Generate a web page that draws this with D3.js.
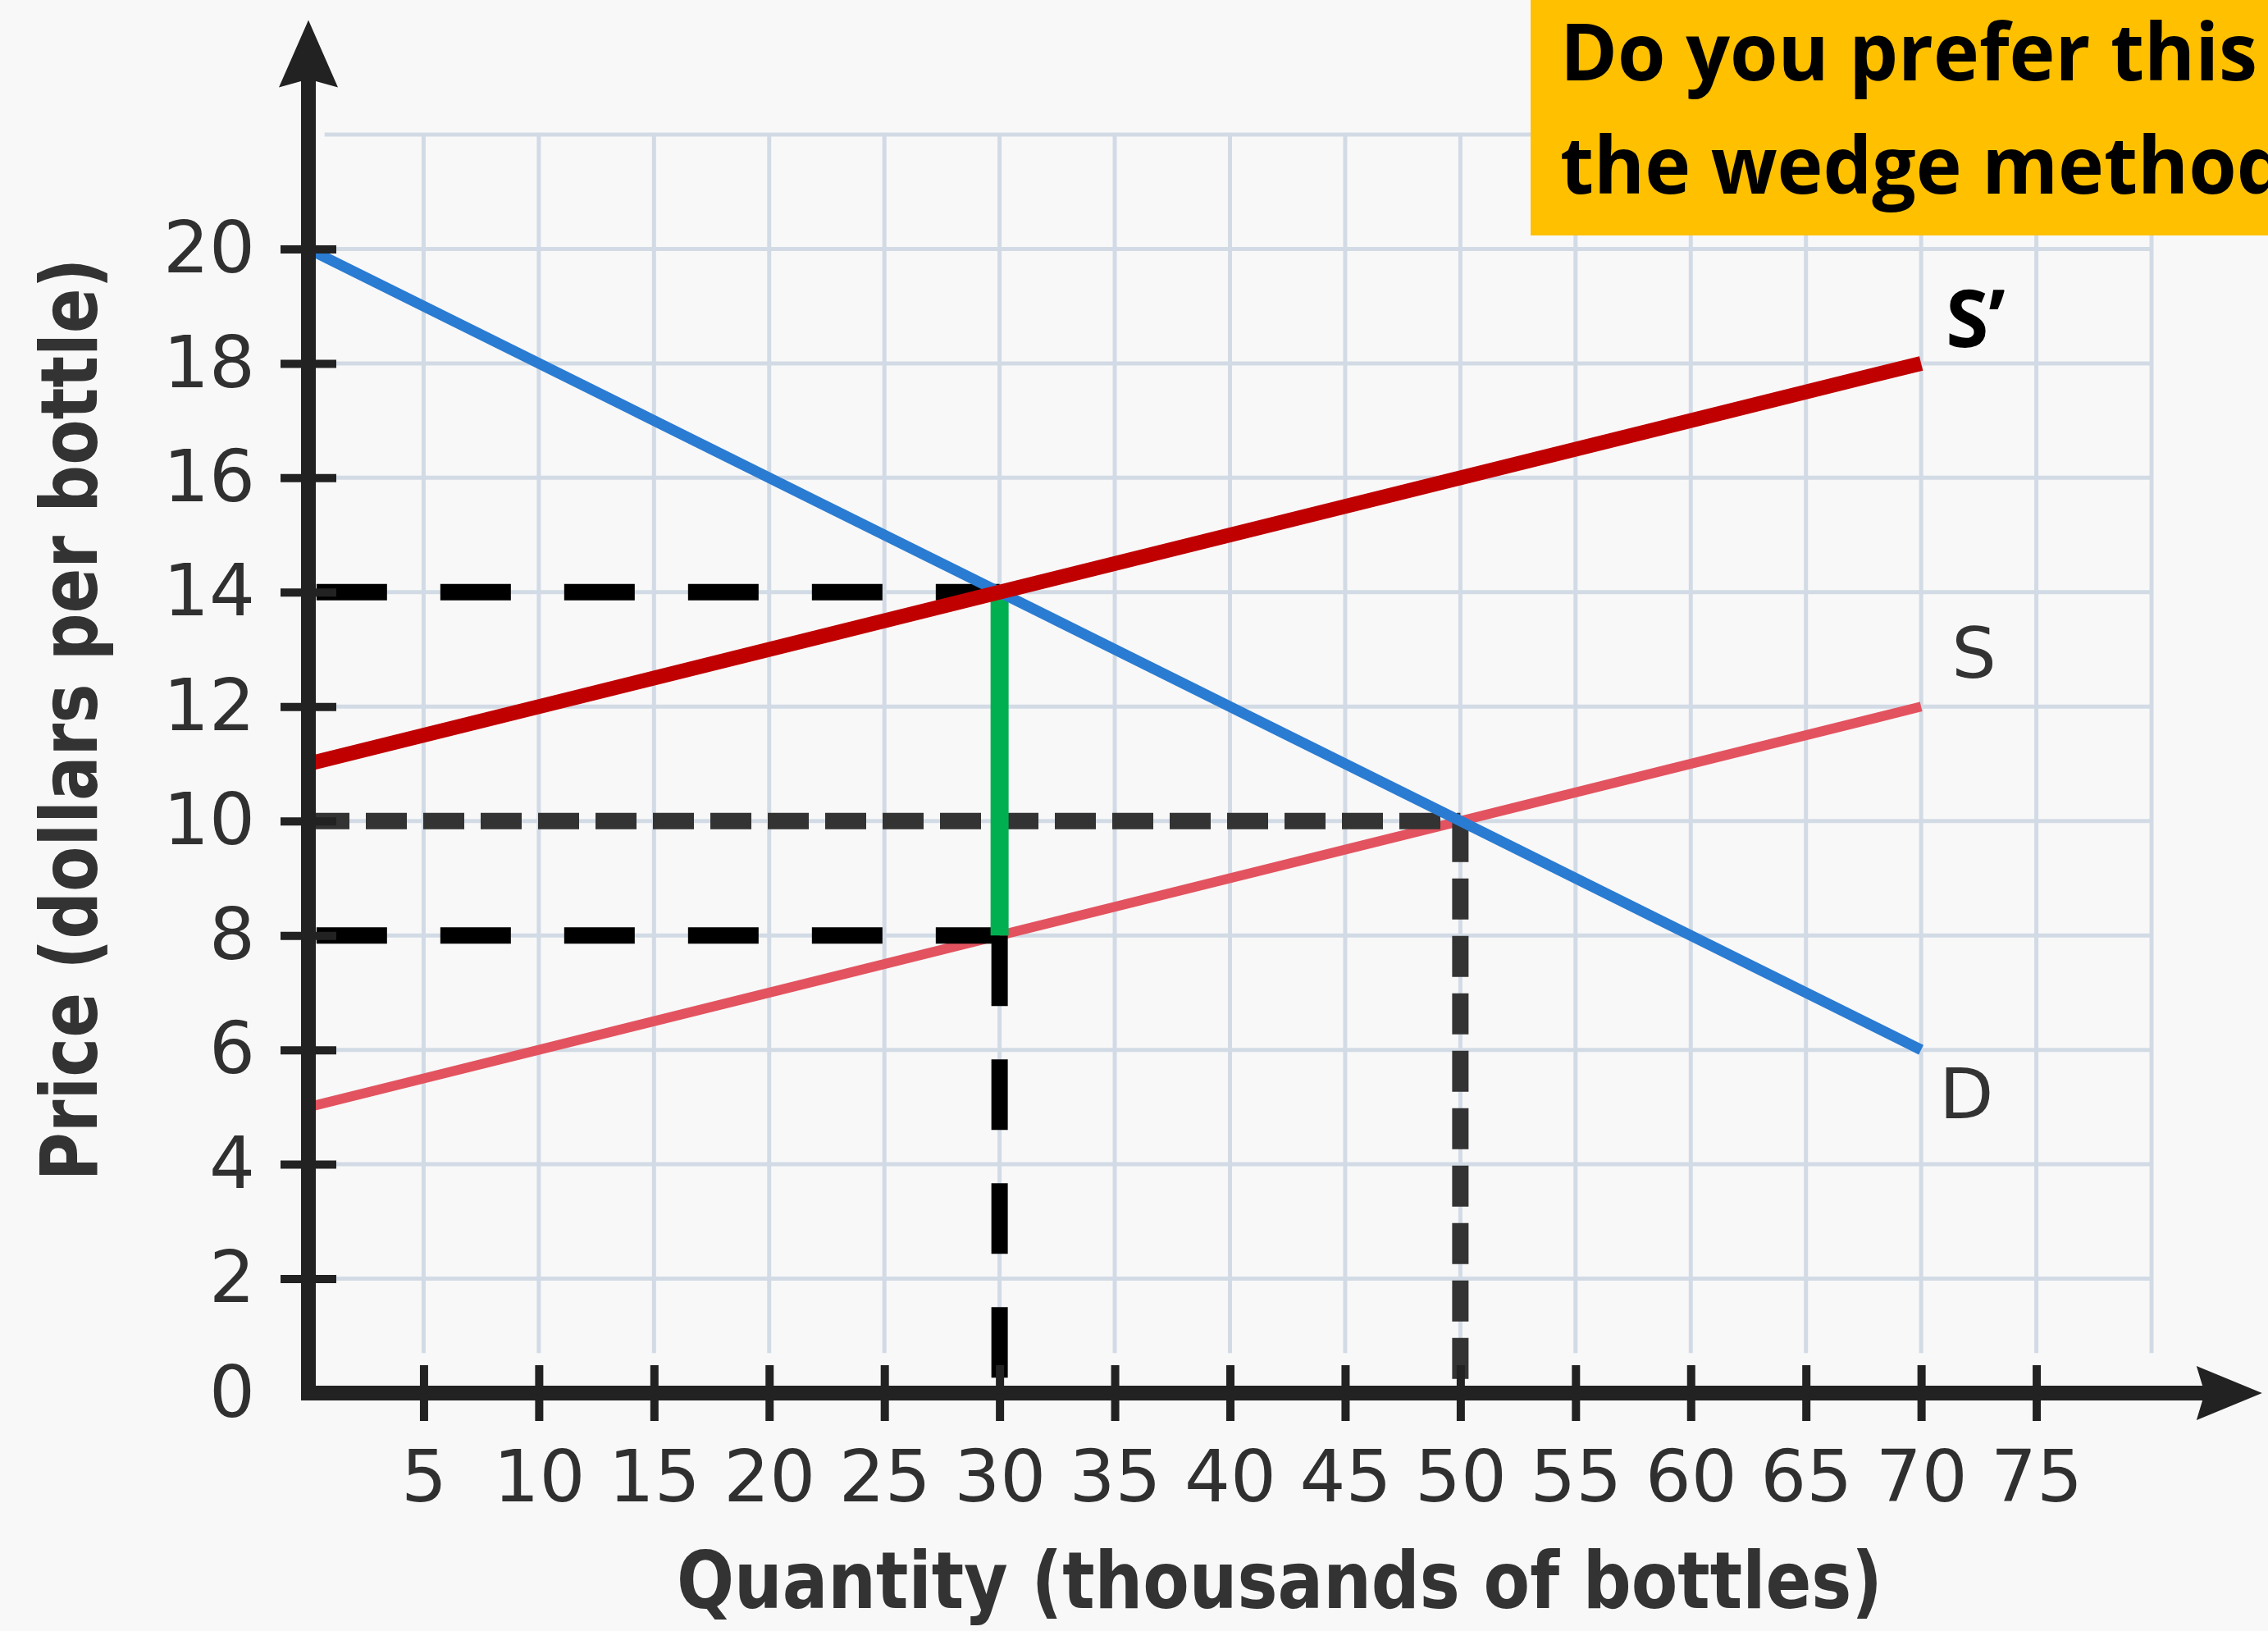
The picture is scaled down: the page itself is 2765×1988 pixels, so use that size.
<!DOCTYPE html>
<html>
<head>
<meta charset="utf-8">
<script src="https://cdn.jsdelivr.net/npm/d3@7"></script>
<style>
  html, body { margin: 0; padding: 0; background: #f8f8f8; }
  svg { display: block; }
</style>
</head>
<body>
<div id="app"></div>
<script>
'use strict'

// curves: quantity (thousands of bottles) -> price (dollars per bottle)
const demandQ = [0, 70]
const demandP = [20, 6]
const supplyQ = [0, 70]
const supplyP = [5, 12]
const taxSupplyQ = [0, 70]
const taxSupplyP = [11, 18]

// tax wedge and equilibrium
const taxQty = 30
const buyerPrice = 14
const sellerPrice = 8
const eqQty = 50
const eqPrice = 10

const xTicks = [5, 10, 15, 20, 25, 30, 35, 40, 45, 50, 55, 60, 65, 70, 75]
const yTicks = [0, 2, 4, 6, 8, 10, 12, 14, 16, 18, 20]
const xGrid = [5, 10, 15, 20, 25, 30, 35, 40, 45, 50, 55, 60, 65, 70, 75, 80]
const yGrid = [2, 4, 6, 8, 10, 12, 14, 16, 18, 20, 22]

const width = 2765
const height = 1988

const svg = d3.select('#app').append('svg')
  .attr('width', width)
  .attr('height', height)

svg.append('rect')
  .attr('width', width)
  .attr('height', height)
  .attr('fill', '#f8f8f8')

const x = d3.scaleLinear().domain([0, 80]).range([376, 2623])
const y = d3.scaleLinear().domain([0, 22]).range([1698, 164])

const line = d3.line().x(d => x(d[0])).y(d => y(d[1]))
const pairs = (qs, ps) => qs.map((q, i) => [q, ps[i]])

// grid
const grid = svg.append('g')
  .attr('stroke', '#d2dbe5')
  .attr('stroke-width', 5)

grid.selectAll('.vgrid')
  .data(xGrid)
  .enter().append('line')
  .attr('x1', d => x(d))
  .attr('x2', d => x(d))
  .attr('y1', y(22))
  .attr('y2', y(0.7))

grid.selectAll('.hgrid')
  .data(yGrid)
  .enter().append('line')
  .attr('x1', x(0.7))
  .attr('x2', x(80))
  .attr('y1', d => y(d))
  .attr('y2', d => y(d))

// original supply S
svg.append('path')
  .attr('d', line(pairs(supplyQ, supplyP)))
  .attr('fill', 'none')
  .attr('stroke', '#e2535f')
  .attr('stroke-width', 12)

/*
* Guide lines: black for the tax wedge prices,
* dark gray (shorter dashes) for the equilibrium
*/
const black = { stroke: '#000', width: 20, dash: '86 65' }
const gray = { stroke: '#333', width: 20, dash: '50 20' }

const guides = [
  { pts: [[0.35, buyerPrice], [taxQty, buyerPrice]], style: black },
  { pts: [[0.35, sellerPrice], [taxQty, sellerPrice]], style: black },
  { pts: [[taxQty, sellerPrice], [taxQty, 0]], style: black },
  { pts: [[0, eqPrice], [eqQty, eqPrice]], style: gray },
  { pts: [[eqQty, eqPrice], [eqQty, 0.2]], style: gray },
]

svg.selectAll('.guide')
  .data(guides)
  .enter().append('path')
  .attr('d', d => line(d.pts))
  .attr('fill', 'none')
  .attr('stroke', d => d.style.stroke)
  .attr('stroke-width', d => d.style.width)
  .attr('stroke-dasharray', d => d.style.dash)

// tax wedge
svg.append('path')
  .attr('d', line([[taxQty, buyerPrice], [taxQty, sellerPrice]]))
  .attr('stroke', '#00b050')
  .attr('stroke-width', 22)

// demand D
svg.append('path')
  .attr('d', line(pairs(demandQ, demandP)))
  .attr('fill', 'none')
  .attr('stroke', '#2a7bd2')
  .attr('stroke-width', 13)

// supply with tax S'
svg.append('path')
  .attr('d', line(pairs(taxSupplyQ, taxSupplyP)))
  .attr('fill', 'none')
  .attr('stroke', '#c00000')
  .attr('stroke-width', 18)

// axes
const xAxis = svg.append('g')
  .attr('transform', `translate(0,${y(0)})`)
  .call(d3.axisBottom(x).tickValues(xTicks).tickSize(34).tickPadding(36))

const yAxis = svg.append('g')
  .attr('transform', `translate(${x(0)},0)`)
  .call(d3.axisLeft(y).tickValues(yTicks).tickSize(34).tickPadding(31))

for (const ax of [xAxis, yAxis]) {
  ax.select('.domain').remove()
  ax.attr('font-family', 'DejaVu Sans').attr('font-size', 88)
  ax.selectAll('.tick text').attr('fill', '#303030')
  ax.selectAll('.tick line').attr('stroke', '#222').attr('stroke-width', 10)
}
xAxis.selectAll('.tick line').attr('y1', -34)
yAxis.selectAll('.tick line').attr('x1', 34)
yAxis.selectAll('.tick').filter(d => d === 0).select('line').remove()

svg.append('path')
  .attr('d', line([[0, 23], [0, 0], [83, 0]]))
  .attr('fill', 'none')
  .attr('stroke', '#222')
  .attr('stroke-width', 18)
  .attr('stroke-linejoin', 'miter')
  .attr('stroke-linecap', 'square')

// arrow heads
const yTip = [x(0), y(24)]
const xTip = [x(84.8), y(0)]
svg.append('path')
  .attr('d', `M${yTip[0]},${yTip[1]} L${yTip[0] - 36},${yTip[1] + 82} L${yTip[0]},${yTip[1] + 72} L${yTip[0] + 36},${yTip[1] + 82} Z`)
  .attr('fill', '#222')
svg.append('path')
  .attr('d', `M${xTip[0]},${xTip[1]} L${xTip[0] - 80},${xTip[1] - 33} L${xTip[0] - 70},${xTip[1]} L${xTip[0] - 80},${xTip[1] + 33} Z`)
  .attr('fill', '#222')

// axis titles
svg.append('text')
  .attr('x', 1560)
  .attr('y', 1960)
  .attr('text-anchor', 'middle')
  .attr('font-family', 'DejaVu Sans')
  .attr('font-weight', 'bold')
  .attr('font-size', 96)
  .attr('textLength', 1470)
  .attr('lengthAdjust', 'spacingAndGlyphs')
  .attr('fill', '#333')
  .text('Quantity (thousands of bottles)')

svg.append('text')
  .attr('transform', 'translate(118,877) rotate(-90)')
  .attr('text-anchor', 'middle')
  .attr('font-family', 'DejaVu Sans')
  .attr('font-weight', 'bold')
  .attr('font-size', 96)
  .attr('textLength', 1125)
  .attr('lengthAdjust', 'spacingAndGlyphs')
  .attr('fill', '#333')
  .text('Price (dollars per bottle)')

// curve labels
svg.append('text')
  .attr('x', x(70) + 37)
  .attr('y', y(12) - 35)
  .attr('font-family', 'DejaVu Sans')
  .attr('font-size', 86)
  .attr('fill', '#333')
  .text('S')

svg.append('text')
  .attr('x', x(70) + 22)
  .attr('y', y(6) + 83)
  .attr('font-family', 'DejaVu Sans')
  .attr('font-size', 86)
  .attr('fill', '#333')
  .text('D')

// callout box (runs off the right edge, as in the original)
svg.append('rect')
  .attr('x', 1866)
  .attr('y', 0)
  .attr('width', width - 1866)
  .attr('height', 287)
  .attr('fill', '#ffc000')

const callout = ['Do you prefer this', 'the wedge method?']
const calloutY = [98, 236]
const calloutText = svg.selectAll('.callout')
  .data(callout)
  .enter().append('text')
  .attr('x', 1902)
  .attr('y', (d, i) => calloutY[i])
  .attr('font-family', 'Open Sans')
  .attr('font-weight', 'bold')
  .attr('font-size', 96)
  .attr('fill', '#000')
  .text(d => d)

const sPrime = svg.append('text')
  .attr('x', x(70) + 30)
  .attr('y', y(18) - 20)
  .attr('font-family', 'Open Sans')
  .attr('font-weight', 'bold')
  .attr('font-size', 96)
  .attr('fill', '#000')
  .text('S’')

// squeeze the callout font to the narrow look of the original
const squeeze = 850 / calloutText.node().getComputedTextLength()
calloutText.each(function () {
  const w = this.getComputedTextLength()
  d3.select(this)
    .attr('textLength', w * squeeze)
    .attr('lengthAdjust', 'spacingAndGlyphs')
})
sPrime.attr('textLength', sPrime.node().getComputedTextLength() * squeeze)
  .attr('lengthAdjust', 'spacingAndGlyphs')
</script>
</body>
</html>
